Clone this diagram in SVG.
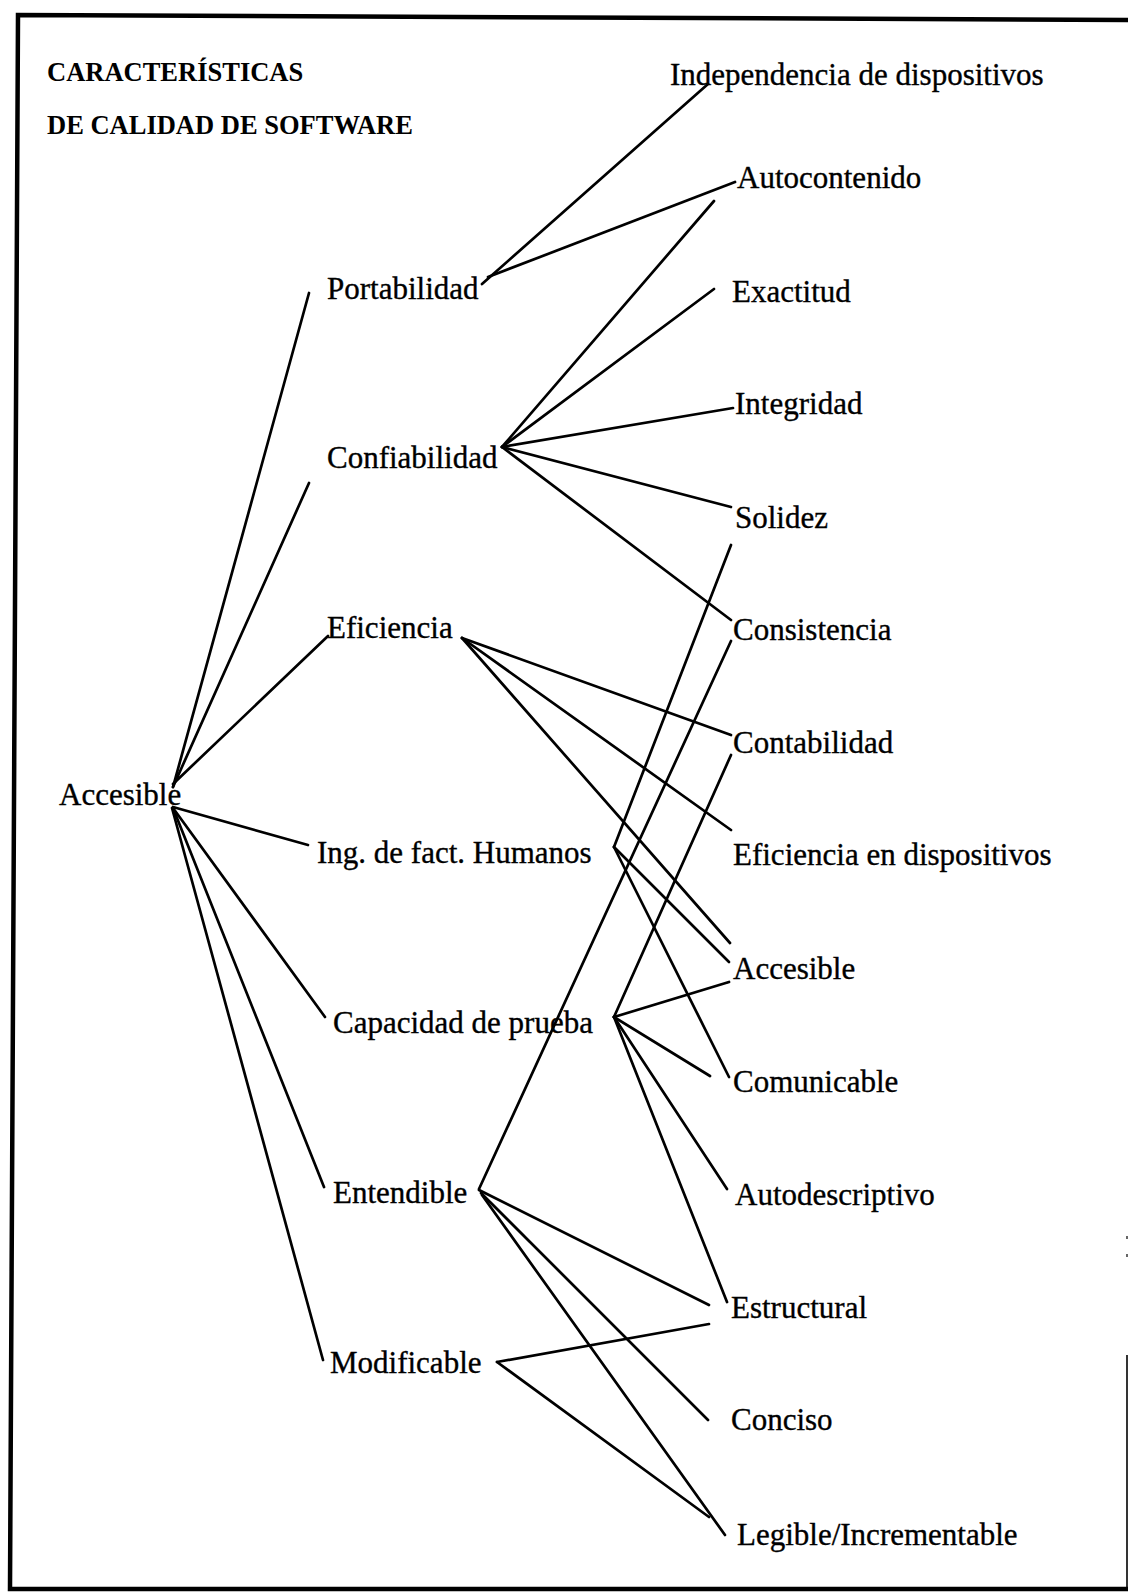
<svg xmlns="http://www.w3.org/2000/svg" width="1128" height="1593" viewBox="0 0 1128 1593">
  <style>
    .title { font-family: "Liberation Serif", "Times New Roman", serif; font-weight: bold; font-size: 26.5px; fill: #000; }
    .lbl { font-family: "Liberation Serif", "Times New Roman", serif; font-size: 31px; fill: #000; stroke: #000; stroke-width: 0.35; }
    .frame { fill: none; stroke: #000; stroke-width: 4.5; stroke-linecap: square; }
    .edge { fill: none; stroke: #000; stroke-width: 2.7; stroke-linecap: round; }
  </style>

  <rect x="0" y="0" width="1128" height="1593" fill="#fff"/>

  <!-- page frame -->
  <g id="frame">
    <polyline class="frame" points="1128,20 18,15 10,1589 1128,1589"/>
    <line x1="1127" y1="1355" x2="1127" y2="1589" stroke="#000" stroke-width="1.6"/>
    <line x1="1127" y1="1236" x2="1127" y2="1239" stroke="#000" stroke-width="1.2"/>
    <line x1="1127" y1="1254" x2="1127" y2="1257" stroke="#000" stroke-width="1.2"/>
  </g>

  <!-- heading -->
  <g id="title">
    <text class="title" x="47" y="81">CARACTERÍSTICAS</text>
    <text class="title" x="47" y="134">DE CALIDAD DE SOFTWARE</text>
  </g>

  <!-- connectors -->
  <g id="connectors">
    <!-- root to factors -->
    <line class="edge" x1="173" y1="787" x2="309" y2="293"/>
    <line class="edge" x1="173" y1="787" x2="309" y2="483"/>
    <line class="edge" x1="173" y1="784" x2="328" y2="636"/>
    <line class="edge" x1="173" y1="807" x2="308" y2="845"/>
    <line class="edge" x1="173" y1="808" x2="325" y2="1017"/>
    <line class="edge" x1="173" y1="808" x2="324" y2="1187"/>
    <line class="edge" x1="172" y1="808" x2="323" y2="1360"/>

    <!-- Portabilidad -->
    <line class="edge" x1="482" y1="284" x2="708" y2="84"/>
    <line class="edge" x1="488" y1="277" x2="735" y2="182"/>

    <!-- Confiabilidad -->
    <line class="edge" x1="502" y1="447" x2="714" y2="201"/>
    <line class="edge" x1="502" y1="447" x2="714" y2="289"/>
    <line class="edge" x1="502" y1="447" x2="733" y2="408"/>
    <line class="edge" x1="502" y1="447" x2="731" y2="507"/>
    <line class="edge" x1="502" y1="447" x2="731" y2="620"/>

    <!-- Eficiencia -->
    <line class="edge" x1="462" y1="638" x2="731" y2="735"/>
    <line class="edge" x1="462" y1="638" x2="731" y2="830"/>
    <line class="edge" x1="462" y1="638" x2="730" y2="943"/>

    <!-- Ing. de fact. Humanos -->
    <line class="edge" x1="614" y1="847" x2="731" y2="545"/>
    <line class="edge" x1="614" y1="847" x2="729" y2="962"/>
    <line class="edge" x1="614" y1="847" x2="729" y2="1077"/>

    <!-- Capacidad de prueba -->
    <line class="edge" x1="614" y1="1017" x2="731" y2="755"/>
    <line class="edge" x1="614" y1="1017" x2="729" y2="982"/>
    <line class="edge" x1="614" y1="1017" x2="710" y2="1076"/>
    <line class="edge" x1="614" y1="1017" x2="727" y2="1189"/>
    <line class="edge" x1="614" y1="1017" x2="727" y2="1302"/>

    <!-- Entendible -->
    <line class="edge" x1="479" y1="1189" x2="731" y2="641"/>
    <line class="edge" x1="479" y1="1190" x2="709" y2="1305"/>
    <line class="edge" x1="481" y1="1193" x2="708" y2="1420"/>
    <line class="edge" x1="482" y1="1195" x2="725" y2="1535"/>

    <!-- Modificable -->
    <line class="edge" x1="497" y1="1362" x2="709" y2="1324"/>
    <line class="edge" x1="497" y1="1362" x2="709" y2="1517"/>
  </g>

  <!-- root -->
  <g id="n-accesible-root"><text class="lbl" x="59" y="805">Accesible</text></g>

  <!-- factors -->
  <g id="n-portabilidad"><text class="lbl" x="327" y="299">Portabilidad</text></g>
  <g id="n-confiabilidad"><text class="lbl" x="327" y="468">Confiabilidad</text></g>
  <g id="n-eficiencia"><text class="lbl" x="327" y="638">Eficiencia</text></g>
  <g id="n-ing-humanos"><text class="lbl" x="317" y="863">Ing. de fact. Humanos</text></g>
  <g id="n-capacidad-prueba"><text class="lbl" x="333" y="1033">Capacidad de prueba</text></g>
  <g id="n-entendible"><text class="lbl" x="333" y="1203">Entendible</text></g>
  <g id="n-modificable"><text class="lbl" x="330" y="1373">Modificable</text></g>

  <!-- criteria -->
  <g id="n-independencia"><text class="lbl" x="670" y="85">Independencia de dispositivos</text></g>
  <g id="n-autocontenido"><text class="lbl" x="737" y="188">Autocontenido</text></g>
  <g id="n-exactitud"><text class="lbl" x="732" y="302">Exactitud</text></g>
  <g id="n-integridad"><text class="lbl" x="735" y="414">Integridad</text></g>
  <g id="n-solidez"><text class="lbl" x="735" y="528">Solidez</text></g>
  <g id="n-consistencia"><text class="lbl" x="733" y="640">Consistencia</text></g>
  <g id="n-contabilidad"><text class="lbl" x="733" y="753">Contabilidad</text></g>
  <g id="n-eficiencia-disp"><text class="lbl" x="733" y="865">Eficiencia en dispositivos</text></g>
  <g id="n-accesible"><text class="lbl" x="733" y="979">Accesible</text></g>
  <g id="n-comunicable"><text class="lbl" x="733" y="1092">Comunicable</text></g>
  <g id="n-autodescriptivo"><text class="lbl" x="735" y="1205">Autodescriptivo</text></g>
  <g id="n-estructural"><text class="lbl" x="731" y="1318">Estructural</text></g>
  <g id="n-conciso"><text class="lbl" x="731" y="1430">Conciso</text></g>
  <g id="n-legible"><text class="lbl" x="737" y="1545">Legible/Incrementable</text></g>
</svg>
